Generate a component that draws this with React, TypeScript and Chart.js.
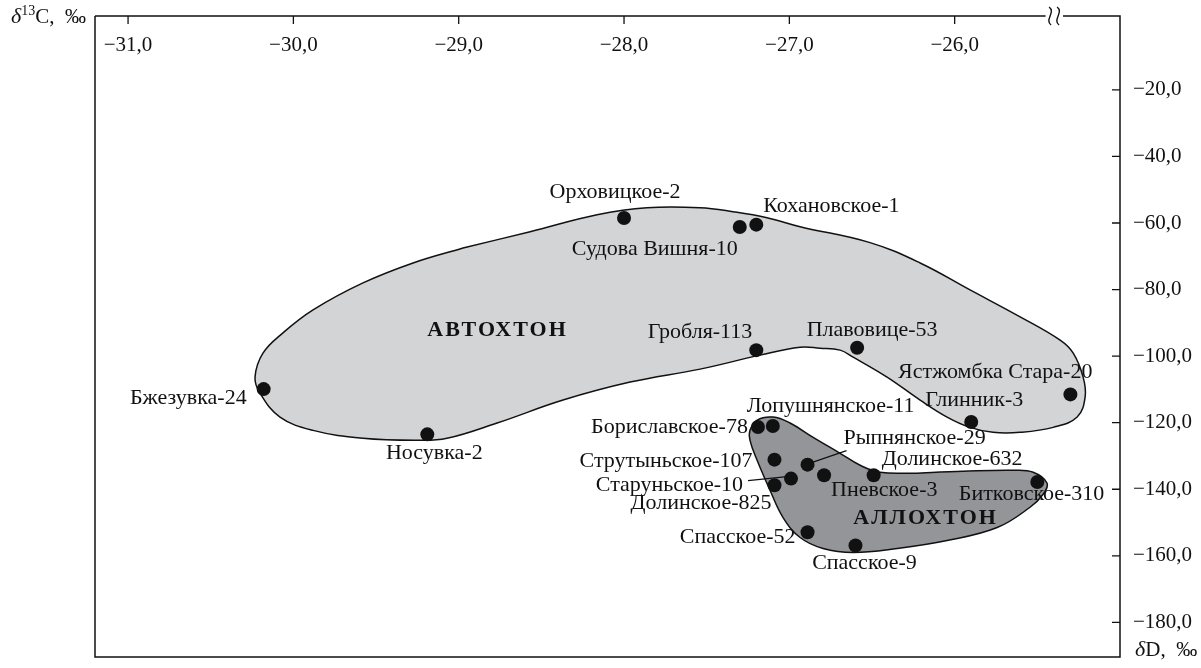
import React, { useEffect, useRef } from 'react';
import { Chart, registerables } from 'chart.js';

Chart.register(...registerables);

// Wells: δ13C (‰) and δD (‰) of methane
const wells = [
  'Орховицкое-2', 'Судова Вишня-10', 'Кохановское-1', 'Гробля-113', 'Плавовице-53',
  'Ястжомбка Стара-20', 'Глинник-3', 'Бжезувка-24', 'Носувка-2', 'Бориславское-78',
  'Лопушнянское-11', 'Струтыньское-107', 'Рыпнянское-29', 'Старуньское-10', 'Долинское-825',
  'Пневское-3', 'Долинское-632', 'Битковское-310', 'Спасское-52', 'Спасское-9',
];
const d13C = [
  -28.0, -27.3, -27.2, -27.2, -26.59,
  -25.3, -25.9, -30.18, -29.19, -27.19,
  -27.1, -27.09, -26.89, -26.99, -27.09,
  -26.79, -26.49, -25.5, -26.89, -26.6,
];
const dD = [
  -58.5, -61.2, -60.5, -98.2, -97.5,
  -111.5, -119.8, -109.9, -123.5, -121.3,
  -121.0, -131.1, -132.6, -136.8, -138.8,
  -135.8, -135.8, -137.8, -152.9, -156.9,
];

// Outline of the autochthon field (closed contour)
const autoC = [
  -28.974, -28.568, -28.163, -27.861, -27.54, -27.34, -27.135, -26.935, -26.512, -26.209,
  -25.907, -25.604, -25.362, -25.283, -25.223, -25.211, -25.259, -25.404, -25.604, -25.768,
  -25.907, -26.046, -26.209, -26.409, -26.614, -26.693, -26.814, -26.935, -27.177, -27.54,
  -27.963, -28.369, -28.768, -29.071, -29.252, -29.579, -29.881, -30.081, -30.202, -30.232,
  -30.184, -30.063, -29.881, -29.579, -29.276, -28.974,
];
const autoD = [
  -67.5, -62.6, -57.5, -55.4, -55.4, -56.6, -58.4, -61.1, -65.9, -72.0,
  -80.1, -88.2, -95.2, -99.1, -106.3, -112.3, -118.3, -121.4, -122.9, -122.9,
  -121.4, -118.3, -113.2, -106.3, -100.3, -98.2, -97.6, -97.3, -99.7, -103.9,
  -107.8, -113.2, -120.1, -124.7, -125.3, -124.7, -122.3, -118.3, -111.1, -106.3,
  -99.1, -93.0, -86.1, -78.0, -72.0, -67.5,
];

// Outline of the allochthon field (closed contour)
const alloC = [
  -26.251, -25.949, -25.646, -25.525, -25.441, -25.465, -25.544, -25.743, -26.046, -26.348,
  -26.614, -26.796, -26.935, -27.038, -27.117, -27.195, -27.238, -27.238, -27.195, -27.098,
  -26.996, -26.856, -26.693, -26.572, -26.451, -26.251,
];
const alloD = [
  -135.2, -134.6, -134.3, -134.9, -138.2, -141.5, -145.4, -151.5, -155.4, -157.8,
  -159.0, -157.8, -154.5, -148.5, -140.3, -131.3, -125.3, -122.3, -119.2, -118.3,
  -120.1, -124.4, -129.2, -132.8, -134.9, -135.2,
];

const fieldNames = ['АВТОХТОН', 'АЛЛОХТОН'];
const fieldC = [-28.765, -26.176];
const fieldD = [-92.1, -148.8];

const xTicks = [-31, -30, -29, -28, -27, -26];
const yTicks = [-20, -40, -60, -80, -100, -120, -140, -160, -180];

// Label placement relative to each well's marker: [dx, dy, align, leader?]
const labelPlacement: [number, number, CanvasTextAlign, number[]?][] = [
  [-9, -26, 'center'],
  [-2, 22, 'right'],
  [7, -18, 'left'],
  [-4, -18, 'right'],
  [15, -18, 'center'],
  [22, -22, 'right'],
  [3, -22, 'center'],
  [-17, 9, 'right'],
  [7, 19, 'center'],
  [-10, 0, 'right'],
  [-26, -20, 'left'],
  [-22, 2, 'right'],
  [36, -26, 'left', [4, -2, 39, -14]],
  [-48, 7, 'right', [-4, -2, -43, 2]],
  [-3, 18, 'right'],
  [7, 15, 'left'],
  [8, -16, 'left'],
  [67, 12, 'right'],
  [-12, 5, 'right'],
  [9, 18, 'center'],
];

const SERIF = '"Liberation Serif", "DejaVu Serif", serif';
const INK = '#111111';

const fmt = (v: number) => (v < 0 ? '\u2212' : '') + Math.abs(v).toFixed(1).replace('.', ',');

const decorPlugin = {
  id: 'decor',
  afterDatasetsDraw(chart: any) {
    const { ctx, chartArea: a, scales } = chart;
    const xs = scales.x;
    const ys = scales.y;
    ctx.save();
    ctx.strokeStyle = INK;
    ctx.lineWidth = 1.5;

    // frame with a break on the top edge
    const b1 = xs.getPixelForValue(-25.45);
    const b2 = xs.getPixelForValue(-25.345);
    ctx.beginPath();
    ctx.moveTo(a.left, a.top);
    ctx.lineTo(b1, a.top);
    ctx.moveTo(b2, a.top);
    ctx.lineTo(a.right, a.top);
    ctx.lineTo(a.right, a.bottom);
    ctx.lineTo(a.left, a.bottom);
    ctx.lineTo(a.left, a.top);
    ctx.stroke();
    ctx.lineWidth = 1.4;
    [b1 + 4.5, b1 + 12.5].forEach((cx) => {
      ctx.beginPath();
      ctx.moveTo(cx - 1, a.top - 9);
      ctx.bezierCurveTo(cx + 6, a.top - 4, cx - 6, a.top + 4, cx + 1, a.top + 9);
      ctx.stroke();
    });

    // inward tick marks
    ctx.lineWidth = 1.3;
    ctx.beginPath();
    xTicks.forEach((v) => {
      const px = xs.getPixelForValue(v);
      ctx.moveTo(px, a.top);
      ctx.lineTo(px, a.top + 8);
    });
    yTicks.forEach((v) => {
      const py = ys.getPixelForValue(v);
      ctx.moveTo(a.right, py);
      ctx.lineTo(a.right - 8, py);
    });
    ctx.stroke();

    // well labels
    ctx.fillStyle = INK;
    ctx.font = `22px ${SERIF}`;
    ctx.textBaseline = 'middle';
    wells.forEach((name, i) => {
      const px = xs.getPixelForValue(d13C[i]);
      const py = ys.getPixelForValue(dD[i]);
      const [dx, dy, align, leader] = labelPlacement[i];
      ctx.textAlign = align;
      ctx.fillText(name, px + dx, py + dy);
      if (leader) {
        ctx.lineWidth = 1.2;
        ctx.beginPath();
        ctx.moveTo(px + leader[0], py + leader[1]);
        ctx.lineTo(px + leader[2], py + leader[3]);
        ctx.stroke();
      }
    });

    // field names
    ctx.font = `bold 22px ${SERIF}`;
    ctx.textAlign = 'center';
    (ctx as any).letterSpacing = '2px';
    fieldNames.forEach((n, i) => {
      ctx.fillText(n, xs.getPixelForValue(fieldC[i]), ys.getPixelForValue(fieldD[i]));
    });
    (ctx as any).letterSpacing = '0px';

    // axis titles
    ctx.textAlign = 'left';
    ctx.textBaseline = 'alphabetic';
    const drawRuns = (runs: [string, string, number][], x: number, y: number) => {
      let cx = x;
      runs.forEach(([t, f, dy]) => {
        ctx.font = f;
        ctx.fillText(t, cx, y + dy);
        cx += ctx.measureText(t).width;
      });
    };
    drawRuns(
      [
        ['δ', `italic 22px ${SERIF}`, 0],
        ['13', `14px ${SERIF}`, -8],
        ['C,  ‰', `21px ${SERIF}`, 0],
      ],
      11,
      a.top + 7,
    );
    drawRuns(
      [
        ['δ', `italic 22px ${SERIF}`, 0],
        ['D,  ‰', `21px ${SERIF}`, 0],
      ],
      a.right + 15,
      a.bottom - 1,
    );
    ctx.restore();
  },
};

export default function App() {
  const ref = useRef<HTMLCanvasElement>(null);

  useEffect(() => {
    const points = wells.map((_, i) => ({ x: d13C[i], y: dD[i] }));
    const alloPts = alloC.map((x, i) => ({ x, y: alloD[i] }));
    const autoPts = autoC.map((x, i) => ({ x, y: autoD[i] }));

    const chart = new Chart(ref.current as HTMLCanvasElement, {
      type: 'scatter',
      data: {
        datasets: [
          {
            label: 'wells',
            data: points,
            pointRadius: 7,
            pointBackgroundColor: '#111',
            pointBorderWidth: 0,
            showLine: false,
          },
          {
            label: 'allochthon',
            data: alloPts,
            showLine: true,
            pointRadius: 0,
            tension: 0.4,
            borderColor: INK,
            borderWidth: 1.5,
            backgroundColor: '#939598',
            fill: 'shape',
          },
          {
            label: 'autochthon',
            data: autoPts,
            showLine: true,
            pointRadius: 0,
            tension: 0.4,
            borderColor: INK,
            borderWidth: 1.5,
            backgroundColor: '#d3d4d6',
            fill: 'shape',
          },
        ],
      },
      plugins: [decorPlugin],
      options: {
        responsive: false,
        animation: false,
        devicePixelRatio: 1,
        layout: { padding: { left: 95, right: 0, top: 0, bottom: 11 } },
        plugins: {
          legend: { display: false },
          tooltip: { enabled: false },
        },
        scales: {
          x: {
            type: 'linear',
            position: 'top',
            min: -31.2,
            max: -25.0,
            grid: { display: false, drawTicks: false },
            border: { display: false },
            afterBuildTicks: (s: any) => {
              s.ticks = xTicks.map((value) => ({ value }));
            },
            afterFit: (s: any) => {
              s.height = 16;
              s.paddingLeft = 0;
              s.paddingRight = 0;
            },
            ticks: {
              mirror: true,
              maxRotation: 0,
              autoSkip: false,
              padding: 17,
              color: INK,
              font: { family: SERIF, size: 21 },
              callback: (v: any) => fmt(Number(v)),
            },
          },
          y: {
            type: 'linear',
            position: 'right',
            min: -190.4,
            max: 2.2,
            grid: { display: false, drawTicks: false },
            border: { display: false },
            afterBuildTicks: (s: any) => {
              s.ticks = yTicks.map((value) => ({ value }));
            },
            afterFit: (s: any) => {
              s.width = 81;
              s.paddingTop = 0;
              s.paddingBottom = 0;
            },
            ticks: {
              autoSkip: false,
              padding: 13,
              color: INK,
              font: { family: SERIF, size: 21 },
              callback: (v: any) => fmt(Number(v)),
            },
          },
        },
      },
    } as any);
    return () => chart.destroy();
  }, []);

  return (
    <div style={{ position: 'fixed', left: 0, top: 0, width: 1201, height: 668, background: '#fff' }}>
      <canvas ref={ref} width={1201} height={668} style={{ display: 'block' }} />
    </div>
  );
}
